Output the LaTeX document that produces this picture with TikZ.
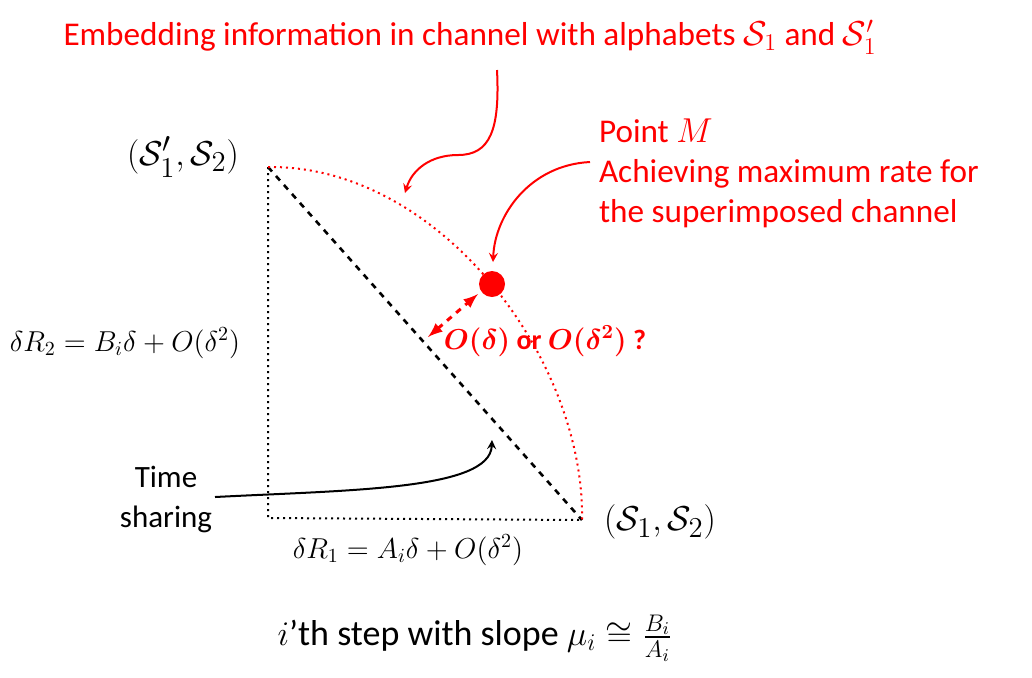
\documentclass[tikz,border=0pt]{standalone}
\usepackage{amsmath}
\usepackage{amsfonts,amssymb}
\usepackage{fontspec}
\setmainfont{Carlito}
\usepackage{tikz}
\usepackage{xcolor}

\begin{document}
\begin{tikzpicture}[x=0.5pt,y=-0.5pt,line width=1pt,
    redtext/.style={color=red, font=\fontsize{16.6}{20}\selectfont, align=left},
    blktext/.style={font=\fontsize{15.5}{20}\selectfont}]
    \useasboundingbox (0,0) rectangle (1032,677);
    \coordinate (top) at (268,167);
    \coordinate (corner) at (268,518);
    \coordinate (end) at (582,520);
    % triangle
    \draw[dotted] (top) -- (corner) -- (end);
    \draw[dashed, line width=1.3pt] (top) -- (end);
    \draw[red, dotted] (top) .. controls (440,165) and (585,360) .. (end);
    \fill[red] (492,284) circle [radius = 13] coordinate (M);
    \draw[<->, >=latex, red, dashed, line width=1.5pt] (428,337) -- (478,294);
    % labels
    \node[font=\fontsize{19}{22}\selectfont] (sa) at (183,157) {$(\mathcal{S}_1',\mathcal{S}_2)$};
    \node[font=\fontsize{19}{22}\selectfont] (sb) at (660,522) {$(\mathcal{S}_1,\mathcal{S}_2)$};
    \node[font=\fontsize{14.2}{17}\selectfont] (dr2) at (125,343) {$\delta R_2 = B_i\delta + O(\delta^2)$};
    \node[font=\fontsize{14.2}{17}\selectfont] (dr1) at (408,550) {$\delta R_1 = A_i\delta + O(\delta^2)$};
    \node[font=\fontsize{14}{17}\selectfont\bfseries, red] (od) at (545,341) {$\boldsymbol{O(\delta)}$ or $\boldsymbol{O(\delta^2)}$ ?};
    \node[font=\fontsize{18}{22}\selectfont] (cap) at (475,638) {$i$'th step with slope $\mu_i \cong \frac{B_i}{A_i}$};
    \node[redtext, anchor=center] (emb) at (470,37) {Embedding information in channel with alphabets $\mathcal{S}_1$ and $\mathcal{S}_1'$};
    \node[redtext, anchor=north west, inner sep=0pt] (pm) at (598,118) {Point $M$\\Achieving maximum rate for\\the superimposed channel};
    \node[blktext, align=center] (ts) at (166,499) {Time\\sharing};
    % arrows
    \draw[->, >=stealth, red] (497,70) .. controls (500,130) and (490,155) .. (458,155)
        .. controls (430,155) and (412,170) .. (405,193);
    \draw[->, >=stealth, red] (590,162) .. controls (530,165) and (495,215) .. (493,262);
    \draw[->, >=stealth] (215,497) .. controls (350,490) and (490,490) .. (492,440);
\end{tikzpicture}
\end{document}
